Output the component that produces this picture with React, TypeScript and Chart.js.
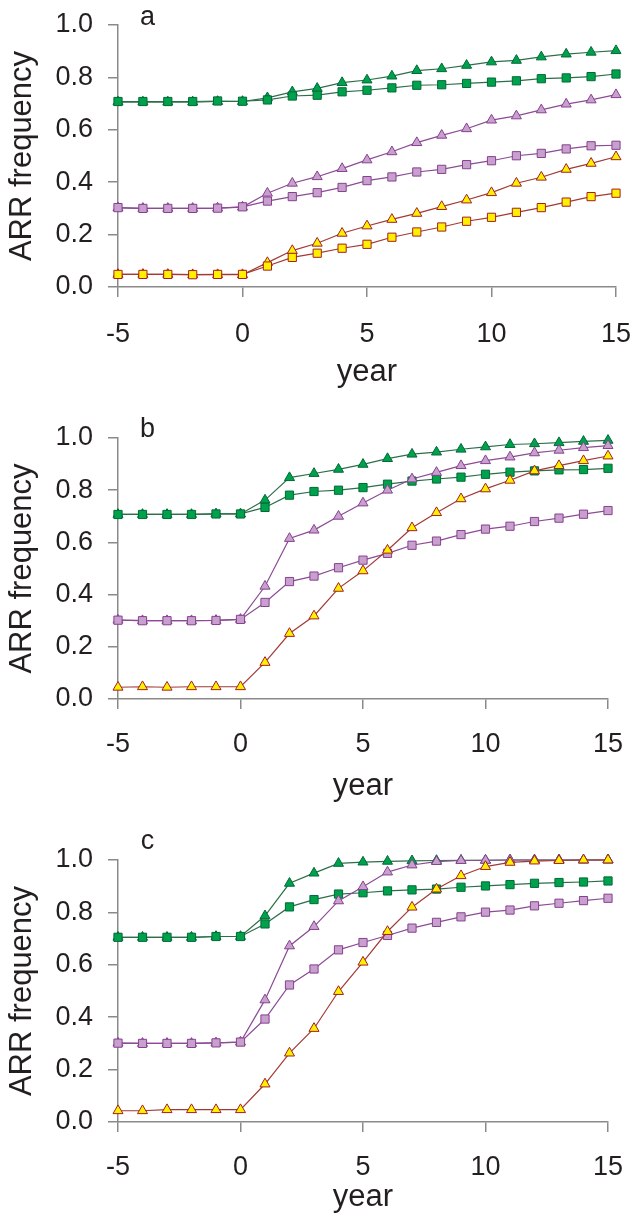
import React, { useEffect, useRef } from 'react';
import { Chart, registerables } from 'chart.js';

Chart.register(...registerables);

// ---------- data ----------
const years = [-5, -4, -3, -2, -1, 0, 1, 2, 3, 4, 5, 6, 7, 8, 9, 10, 11, 12, 13, 14, 15];
const yTickValues = [0, 0.2, 0.4, 0.6, 0.8, 1.0];
const xTickValues = [-5, 0, 5, 10, 15];
const yTitle = 'ARR frequency';
const xTitle = 'year';
const panelLetters = ['a', 'b', 'c'];

// panel a
const aGreenTri = [0.706, 0.706, 0.706, 0.706, 0.708, 0.708, 0.722, 0.745, 0.758, 0.780, 0.790, 0.805, 0.826, 0.833, 0.846, 0.859, 0.865, 0.878, 0.889, 0.896, 0.902];
const aGreenSq = [0.708, 0.708, 0.708, 0.708, 0.710, 0.709, 0.714, 0.729, 0.732, 0.745, 0.751, 0.760, 0.770, 0.772, 0.777, 0.782, 0.787, 0.795, 0.798, 0.803, 0.813];
const aPurpleTri = [0.302, 0.300, 0.300, 0.300, 0.301, 0.305, 0.358, 0.396, 0.421, 0.452, 0.485, 0.516, 0.551, 0.579, 0.604, 0.637, 0.653, 0.676, 0.698, 0.714, 0.734];
const aPurpleSq = [0.303, 0.300, 0.300, 0.300, 0.301, 0.306, 0.328, 0.345, 0.360, 0.380, 0.406, 0.420, 0.439, 0.449, 0.467, 0.482, 0.501, 0.510, 0.527, 0.539, 0.541];
const aYellowTri = [0.048, 0.048, 0.048, 0.047, 0.047, 0.047, 0.093, 0.139, 0.167, 0.205, 0.233, 0.258, 0.281, 0.307, 0.332, 0.360, 0.396, 0.419, 0.449, 0.472, 0.497];
const aYellowSq = [0.048, 0.048, 0.048, 0.047, 0.048, 0.048, 0.080, 0.113, 0.129, 0.148, 0.163, 0.190, 0.210, 0.229, 0.251, 0.266, 0.285, 0.303, 0.324, 0.345, 0.358];

// panel b
const bGreenTri = [0.707, 0.707, 0.707, 0.707, 0.709, 0.709, 0.762, 0.848, 0.864, 0.880, 0.899, 0.921, 0.938, 0.946, 0.957, 0.966, 0.975, 0.978, 0.982, 0.987, 0.991];
const bGreenSq = [0.707, 0.707, 0.707, 0.707, 0.709, 0.709, 0.734, 0.781, 0.795, 0.800, 0.810, 0.823, 0.835, 0.843, 0.850, 0.861, 0.869, 0.874, 0.878, 0.879, 0.884];
const bPurpleTri = [0.302, 0.300, 0.300, 0.300, 0.301, 0.305, 0.432, 0.615, 0.647, 0.700, 0.751, 0.800, 0.843, 0.868, 0.894, 0.913, 0.927, 0.943, 0.953, 0.963, 0.971];
const bPurpleSq = [0.302, 0.300, 0.300, 0.300, 0.301, 0.305, 0.370, 0.450, 0.471, 0.503, 0.532, 0.558, 0.589, 0.605, 0.630, 0.651, 0.662, 0.680, 0.693, 0.708, 0.722];
const bYellowTri = [0.045, 0.047, 0.045, 0.047, 0.047, 0.047, 0.140, 0.251, 0.318, 0.424, 0.491, 0.570, 0.656, 0.714, 0.767, 0.805, 0.838, 0.874, 0.894, 0.913, 0.931];

// panel c
const cGreenTri = [0.705, 0.705, 0.705, 0.705, 0.708, 0.708, 0.787, 0.911, 0.950, 0.987, 0.992, 0.995, 0.997, 0.998, 0.999, 0.999, 1.0, 1.0, 1.0, 1.0, 1.0];
const cGreenSq = [0.705, 0.705, 0.705, 0.705, 0.708, 0.708, 0.756, 0.821, 0.849, 0.870, 0.875, 0.882, 0.886, 0.889, 0.896, 0.901, 0.906, 0.911, 0.914, 0.916, 0.920];
const cPurpleTri = [0.301, 0.300, 0.300, 0.300, 0.302, 0.305, 0.466, 0.672, 0.746, 0.844, 0.898, 0.954, 0.981, 0.994, 0.998, 0.999, 1.0, 1.0, 1.0, 1.0, 1.0];
const cPurpleSq = [0.301, 0.300, 0.300, 0.300, 0.302, 0.305, 0.393, 0.523, 0.584, 0.657, 0.685, 0.712, 0.740, 0.762, 0.783, 0.801, 0.809, 0.825, 0.835, 0.845, 0.854];
const cYellowTri = [0.043, 0.043, 0.047, 0.047, 0.047, 0.047, 0.145, 0.263, 0.357, 0.498, 0.610, 0.727, 0.820, 0.889, 0.940, 0.975, 0.991, 0.996, 0.998, 1.0, 1.0];

// ---------- styles ----------
const FONT = '"Liberation Sans", Arial, Helvetica, sans-serif';
const TEXT = '#231f20';
const AXIS = '#8a8a8a';

type Colour = { line: string; fill: string; stroke: string };
const green: Colour = { line: '#2d6e4a', fill: '#00a14b', stroke: '#00693a' };
const purple: Colour = { line: '#8c4a96', fill: '#c8a0cd', stroke: '#86408f' };
const yellow: Colour = { line: '#a23a34', fill: '#fff000', stroke: '#a31f24' };

type Series = { values: number[]; colour: Colour; marker: 'triangle' | 'rect' };
type Panel = {
  letter: string;
  top: number;
  height: number;
  right: number;
  chartTop: number;
  chartBottom: number;
  tickPad: number;
  titlePadBottom: number;
  letterDy: number;
  series: Series[];
};

// index 0 is drawn on top
const panels: Panel[] = [
  {
    letter: panelLetters[0], top: 0, height: 400, right: 616, chartTop: 25, chartBottom: 287,
    tickPad: 21, titlePadBottom: 9, letterDy: 0,
    series: [
      { values: aYellowSq, colour: yellow, marker: 'rect' },
      { values: aYellowTri, colour: yellow, marker: 'triangle' },
      { values: aPurpleSq, colour: purple, marker: 'rect' },
      { values: aPurpleTri, colour: purple, marker: 'triangle' },
      { values: aGreenSq, colour: green, marker: 'rect' },
      { values: aGreenTri, colour: green, marker: 'triangle' },
    ],
  },
  {
    letter: panelLetters[1], top: 400, height: 410, right: 608, chartTop: 38, chartBottom: 299,
    tickPad: 19, titlePadBottom: 5, letterDy: -1,
    series: [
      { values: bYellowTri, colour: yellow, marker: 'triangle' },
      { values: bPurpleSq, colour: purple, marker: 'rect' },
      { values: bPurpleTri, colour: purple, marker: 'triangle' },
      { values: bGreenSq, colour: green, marker: 'rect' },
      { values: bGreenTri, colour: green, marker: 'triangle' },
    ],
  },
  {
    letter: panelLetters[2], top: 810, height: 404, right: 608, chartTop: 50, chartBottom: 312,
    tickPad: 19, titlePadBottom: -2, letterDy: -11,
    series: [
      { values: cYellowTri, colour: yellow, marker: 'triangle' },
      { values: cPurpleSq, colour: purple, marker: 'rect' },
      { values: cPurpleTri, colour: purple, marker: 'triangle' },
      { values: cGreenSq, colour: green, marker: 'rect' },
      { values: cGreenTri, colour: green, marker: 'triangle' },
    ],
  },
];

const letterPlugin = {
  id: 'panelLetter',
  afterDraw(chart: any, _args: any, opts: any) {
    const ctx = chart.ctx as CanvasRenderingContext2D;
    const area = chart.chartArea;
    ctx.save();
    ctx.font = `27px ${FONT}`;
    ctx.fillStyle = TEXT;
    ctx.textAlign = 'center';
    ctx.textBaseline = 'alphabetic';
    ctx.fillText(opts.text, area.left + 29.5, area.top + opts.dy);
    ctx.restore();
  },
};

function PanelChart({ p }: { p: Panel }) {
  const ref = useRef<HTMLCanvasElement>(null);
  useEffect(() => {
    const canvas = ref.current!;
    const chart = new Chart(canvas, {
      type: 'line',
      data: {
        datasets: p.series.map((s) => ({
          data: years.map((x, i) => ({ x, y: s.values[i] })),
          borderColor: s.colour.line,
          borderWidth: 1.2,
          pointStyle: s.marker,
          pointRadius: s.marker === 'rect' ? 5.8 : 5.8,
          pointBackgroundColor: s.colour.fill,
          pointBorderColor: s.colour.stroke,
          pointBorderWidth: 1,
          fill: false,
          tension: 0,
          clip: false as any,
        })),
      },
      options: {
        responsive: false,
        animation: false,
        devicePixelRatio: window.devicePixelRatio || 1,
        layout: { padding: { top: p.chartTop, right: 633 - p.right, bottom: 0, left: 0 } },
        plugins: {
          legend: { display: false },
          tooltip: { enabled: false },
          panelLetter: { text: p.letter, dy: p.letterDy },
        } as any,
        scales: {
          x: {
            type: 'linear',
            min: -5,
            max: 15,
            afterBuildTicks: (scale: any) => {
              scale.ticks = xTickValues.map((v) => ({ value: v }));
            },
            afterFit: (scale: any) => {
              scale.height = p.height - p.chartBottom;
              scale.paddingLeft = 0;
              scale.paddingRight = 0;
            },
            ticks: {
              color: TEXT,
              font: { family: FONT, size: 27, lineHeight: 1.2 },
              padding: p.tickPad,
              maxRotation: 0,
              autoSkip: false,
              callback: (v: any) => String(v),
            },
            grid: { drawOnChartArea: false, drawTicks: true, tickLength: 10, color: AXIS, lineWidth: 1.5 },
            border: { display: true, color: AXIS, width: 1.5 },
            title: {
              display: true,
              text: xTitle,
              color: TEXT,
              font: { family: FONT, size: 31, lineHeight: 1.2 },
              padding: { top: 0, bottom: p.titlePadBottom },
            },
          },
          y: {
            type: 'linear',
            min: 0,
            max: 1,
            afterBuildTicks: (scale: any) => {
              scale.ticks = yTickValues.map((v) => ({ value: v }));
            },
            afterFit: (scale: any) => {
              scale.width = 118;
              scale.paddingTop = 0;
              scale.paddingBottom = 0;
            },
            ticks: {
              color: TEXT,
              font: { family: FONT, size: 27, lineHeight: 1.2 },
              padding: 15,
              autoSkip: false,
              callback: (v: any) => Number(v).toFixed(1),
            },
            grid: { drawOnChartArea: false, drawTicks: true, tickLength: 10, color: AXIS, lineWidth: 1.5 },
            border: { display: true, color: AXIS, width: 1.5 },
            title: {
              display: true,
              text: yTitle,
              color: TEXT,
              font: { family: FONT, size: 31, lineHeight: 1.2 },
              padding: { top: 4, bottom: 0 },
            },
          },
        },
      },
      plugins: [letterPlugin as any],
    });
    return () => chart.destroy();
  }, [p]);
  return (
    <canvas
      ref={ref}
      width={633}
      height={p.height}
      style={{ position: 'absolute', left: 0, top: p.top, width: 633, height: p.height, display: 'block' }}
    />
  );
}

export default function App() {
  return (
    <div style={{ position: 'absolute', left: 0, top: 0, width: 633, height: 1214, background: '#ffffff' }}>
      {panels.map((p) => (
        <PanelChart key={p.letter} p={p} />
      ))}
    </div>
  );
}
